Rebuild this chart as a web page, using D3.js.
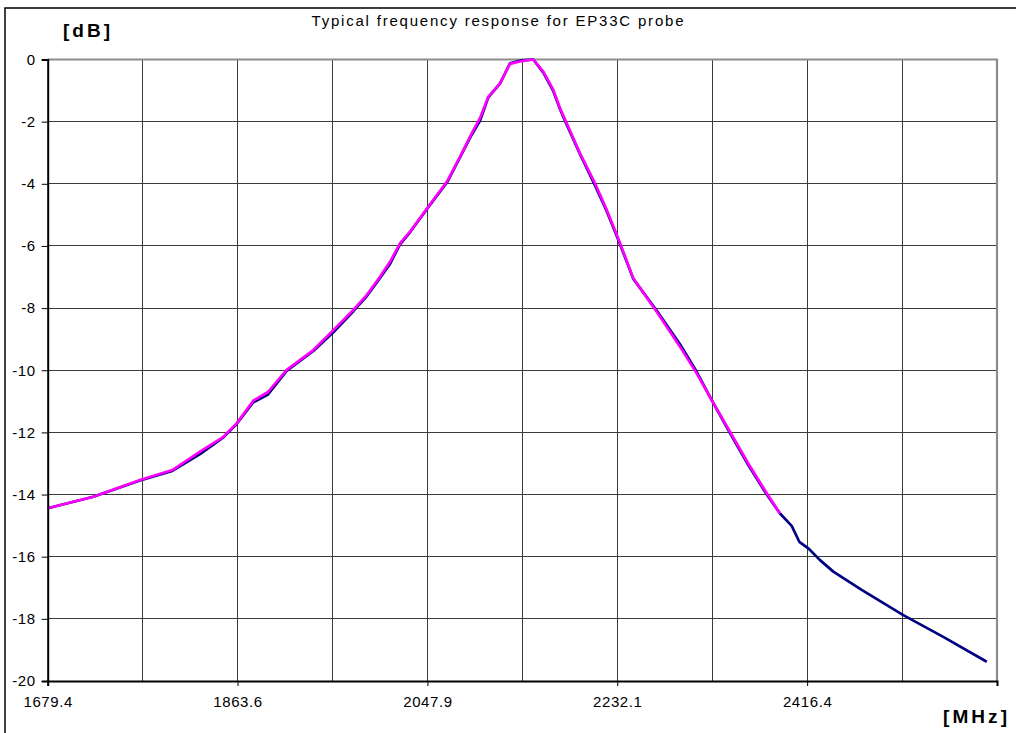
<!DOCTYPE html>
<html>
<head>
<meta charset="utf-8">
<script src="https://cdn.jsdelivr.net/npm/d3@7"></script>
<style>
  html, body { margin: 0; padding: 0; background: #fff; }
  svg { display: block; font-family: "Liberation Sans", Arial, sans-serif; }
</style>
</head>
<body>
<svg id="chart" width="1016" height="733"></svg>
<script>
// ---- data ----
const chartTitle = "Typical frequency response for EP33C probe";
const yUnit = "[dB]";
const xUnit = "[MHz]";

const xTickValues = [1679.4, 1863.6, 2047.9, 2232.1, 2416.4];
const xTickLabels = ["1679.4", "1863.6", "2047.9", "2232.1", "2416.4"];
const xGridValues = [1679.4, 1771.5, 1863.6, 1955.8, 2047.9, 2140.0, 2232.1, 2324.3, 2416.4, 2508.5, 2600.6];
const yTickValues = [0, -2, -4, -6, -8, -10, -12, -14, -16, -18, -20];

// magenta series (frequency MHz, level dB)
const fitFreq = [1679.4, 1723.7, 1769.0, 1800.3, 1827.2, 1849.2, 1862.8, 1878.9, 1893.2, 1911.3,
                 1937.2, 1956.6, 1976.0, 1989.0, 2001.9, 2011.6, 2021.3, 2031.0, 2048.8, 2067.4,
                 2079.5, 2090.9, 2098.9, 2107.0, 2118.3, 2128.0, 2139.4, 2150.6, 2160.4, 2170.1,
                 2176.6, 2183.1, 2196.0, 2210.5, 2221.9, 2233.1, 2247.7, 2270.4, 2293.0, 2309.2,
                 2323.8, 2341.5, 2359.3, 2377.2, 2390.1];
const fitDb =   [-14.44, -14.07, -13.53, -13.21, -12.62, -12.16, -11.71, -10.98, -10.70, -9.99,
                 -9.35, -8.71, -8.06, -7.58, -6.99, -6.51, -5.92, -5.54, -4.74, -3.90,
                 -3.13, -2.38, -1.89, -1.20, -0.77, -0.14, -0.05, 0.00, -0.39, -0.98,
                 -1.57, -2.05, -3.02, -3.98, -4.84, -5.76, -7.04, -8.12, -9.24, -10.10,
                 -10.96, -11.98, -13.00, -13.96, -14.61];

// navy series (measured)
const measFreq = [1679.4, 1723.7, 1769.0, 1800.3, 1827.2, 1849.2, 1862.8, 1878.9, 1893.2, 1911.3,
                  1937.2, 1956.6, 1976.0, 1989.0, 2001.9, 2011.6, 2021.3, 2031.0, 2048.8, 2067.4,
                  2079.5, 2090.9, 2098.9, 2107.0, 2118.3, 2128.0, 2139.4, 2150.6, 2160.4, 2170.1,
                  2176.6, 2183.1, 2196.0, 2210.5, 2221.9, 2233.1, 2247.7, 2270.4, 2293.0, 2309.2,
                  2323.8, 2341.5, 2359.3, 2377.2, 2390.1, 2401.4, 2408.8, 2417.5, 2428.9, 2441.8,
                  2469.3, 2509.7, 2548.5, 2590.7];
const measDb =   [-14.44, -14.07, -13.55, -13.24, -12.70, -12.18, -11.73, -11.03, -10.78, -10.02,
                  -9.38, -8.78, -8.10, -7.62, -7.03, -6.58, -5.95, -5.56, -4.75, -3.93,
                  -3.15, -2.42, -1.97, -1.22, -0.78, -0.12, -0.03, 0.00, -0.42, -1.02,
                  -1.60, -2.10, -3.05, -4.05, -4.88, -5.80, -7.06, -8.08, -9.16, -10.05,
                  -10.96, -12.02, -13.05, -14.00, -14.61, -15.01, -15.52, -15.73, -16.11, -16.48,
                  -17.07, -17.88, -18.58, -19.38];

// ---- layout ----
const svg = d3.select("#chart");
const plot = { left: 47.7, right: 997, top: 59.5, bottom: 681 };

const x = d3.scaleLinear().domain([1679.4, 2600.65]).range([plot.left, plot.right]);
const y = d3.scaleLinear().domain([-20, 0]).range([plot.bottom, plot.top]);

// outer frame
svg.append("path")
  .attr("d", `M5,740 L5,8 L1020,8`)
  .attr("fill", "none").attr("stroke", "#000").attr("stroke-width", 1.5);

// gridlines
const grid = svg.append("g").attr("stroke", "#3a3a3a").attr("stroke-width", 1).attr("shape-rendering", "crispEdges");
grid.selectAll("line.v").data(xGridValues.slice(1, -1)).join("line")
  .attr("x1", d => x(d)).attr("x2", d => x(d)).attr("y1", plot.top).attr("y2", plot.bottom);
grid.selectAll("line.h").data(yTickValues.slice(1, -1)).join("line")
  .attr("x1", plot.left).attr("x2", plot.right).attr("y1", d => y(d)).attr("y2", d => y(d));

// plot border top/right (grey)
svg.append("path")
  .attr("d", `M${plot.left},${plot.top} L${plot.right},${plot.top} L${plot.right},${plot.bottom}`)
  .attr("fill", "none").attr("stroke", "#8c8c8c").attr("stroke-width", 2.2);

// series lines
const line = d3.line().x(d => x(d[0])).y(d => y(d[1]));
svg.append("path")
  .datum(d3.zip(measFreq, measDb))
  .attr("d", line).attr("fill", "none").attr("stroke", "#000080").attr("stroke-width", 2.7)
  .attr("stroke-linejoin", "round");
svg.append("path")
  .datum(d3.zip(fitFreq, fitDb))
  .attr("d", line).attr("fill", "none").attr("stroke", "#ff00ff").attr("stroke-width", 2.7)
  .attr("stroke-linejoin", "round");

// y axis
const yAxis = svg.append("g").attr("transform", `translate(${plot.left},0)`)
  .call(d3.axisLeft(y).tickValues(yTickValues).tickSize(6).tickPadding(6).tickFormat(d => d === 0 ? "0" : "-" + Math.abs(d)));
yAxis.select(".domain").attr("stroke", "#000").attr("stroke-width", 2);
yAxis.selectAll(".tick line").attr("stroke", "#000");
yAxis.selectAll("text").attr("font-size", 15).attr("letter-spacing", "0.6px").attr("fill", "#000")
  .attr("font-family", "Liberation Sans, Arial, sans-serif");

// x axis
const xAxis = svg.append("g").attr("transform", `translate(0,${plot.bottom})`)
  .call(d3.axisBottom(x).tickValues(xTickValues).tickSize(5).tickPadding(10).tickFormat((d, i) => xTickLabels[i]));
xAxis.select(".domain").attr("stroke", "#000").attr("stroke-width", 2);
xAxis.selectAll(".tick line").attr("stroke", "#000");
xAxis.selectAll("text").attr("font-size", 15).attr("letter-spacing", "0.6px").attr("fill", "#000")
  .attr("font-family", "Liberation Sans, Arial, sans-serif");

// title and unit labels
svg.append("text").attr("x", 497.5).attr("y", 26).attr("text-anchor", "middle")
  .attr("font-size", 15).attr("textLength", 372).attr("lengthAdjust", "spacing")
  .text(chartTitle);
svg.append("text").attr("x", 63).attr("y", 37)
  .attr("font-size", 19).attr("font-weight", "bold").attr("textLength", 47).attr("lengthAdjust", "spacing")
  .text(yUnit);
svg.append("text").attr("x", 943).attr("y", 723)
  .attr("font-size", 19).attr("font-weight", "bold").attr("textLength", 64).attr("lengthAdjust", "spacing")
  .text(xUnit);
</script>
</body>
</html>
